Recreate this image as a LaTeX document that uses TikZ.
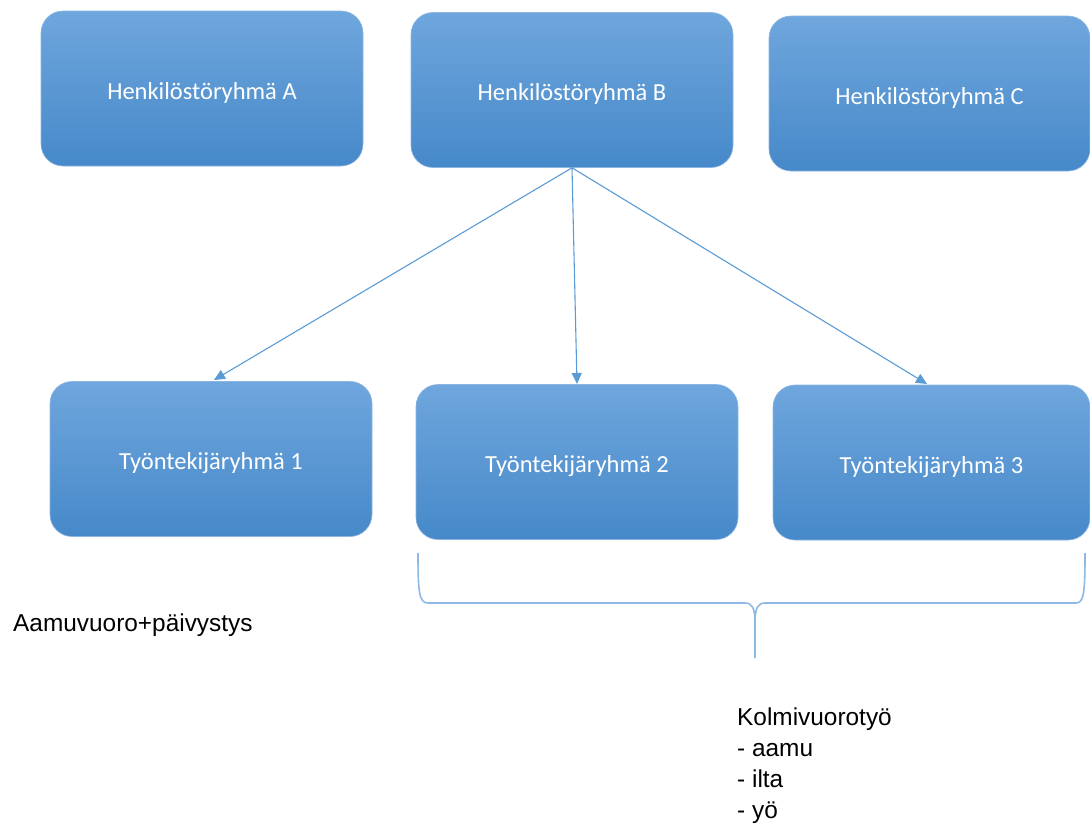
\documentclass[tikz,border=0pt]{standalone}
\usepackage{fontspec}
\setmainfont{Liberation Sans}
\newfontfamily\boxfont{Carlito}
\usetikzlibrary{arrows.meta}
\definecolor{boxtop}{HTML}{6FA6DD}
\definecolor{boxbot}{HTML}{4689C9}
\definecolor{boxedge}{HTML}{8CB6E2}
\definecolor{linkblue}{HTML}{5B9BD5}
\definecolor{bracecol}{HTML}{8DB9E4}
\begin{document}
\begin{tikzpicture}[x=1pt,y=-1pt,
  groupbox/.style={rectangle, rounded corners=22pt, minimum width=322pt,
    minimum height=155pt, inner sep=0pt, top color=boxtop, bottom color=boxbot,
    draw=boxedge, line width=0.6pt, text=white, text height=26pt, text depth=5pt,
    font=\boxfont\fontsize{24.5}{28}\selectfont},
  link/.style={draw=linkblue, line width=1.1pt,
    -{Triangle[length=11pt,width=10pt]}},
  bracket/.style={draw=bracecol, line width=1.6pt},
  note/.style={inner sep=0pt, text=black, font=\fontsize{24.4}{31}\selectfont}]
\useasboundingbox (0,0) rectangle (1090,825);

% staff groups
\node[groupbox] (hA) at (202,88.5)  {Henkilöstöryhmä A};
\node[groupbox] (hB) at (572,90)    {Henkilöstöryhmä B};
\node[groupbox, minimum width=321pt] (hC) at (929.5,93.5) {Henkilöstöryhmä C};

% employee groups
\node[groupbox] (w1) at (211,459)   {Työntekijäryhmä 1};
\node[groupbox] (w2) at (577,462)   {Työntekijäryhmä 2};
\node[groupbox, minimum width=317pt] (w3) at (931.5,462.5) {Työntekijäryhmä 3};

% arrow targets on the upper edges
\coordinate (t1) at (214,380);
\coordinate (t2) at (577,384);
\coordinate (t3) at (927,384);
\draw[link] (hB.south) -- (t1);
\draw[link] (hB.south) -- (t2);
\draw[link] (hB.south) -- (t3);

% curly bracket under groups 2 and 3
\draw[bracket] (418,553) .. controls (418,592) and (419,603) .. (428,603)
  -- (745,603) .. controls (752,603) and (755,608) .. (755,622) -- (755,658);
\draw[bracket] (755,622) .. controls (755,608) and (758,603) .. (765,603)
  -- (1076,603) .. controls (1084,603) and (1085,592) .. (1085,553);

% shift notes
\node[note, anchor=base west] (n1) at (13,631) {Aamuvuoro+päivystys};
\node[note, anchor=north west, align=left] (n3) at (737,707.5)
  {Kolmivuorotyö\\- aamu\\- ilta\\- yö};
\end{tikzpicture}
\end{document}
